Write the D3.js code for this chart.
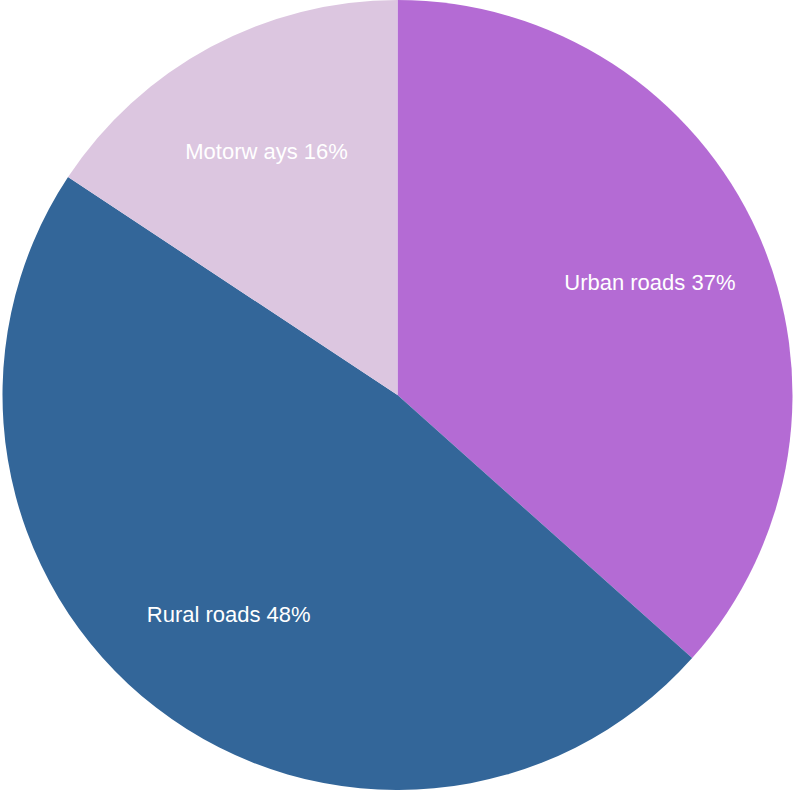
<!DOCTYPE html>
<html><head><meta charset="utf-8">
<script src="https://cdn.jsdelivr.net/npm/d3@7"></script>
<style>html,body{margin:0;padding:0;background:#fff;}</style>
</head><body>
<svg id="chart" width="795" height="790"></svg>
<script>
const categories = ["Urban roads", "Rural roads", "Motorw ays"];
const values = [36.6, 47.7, 15.7];
const labels = ["37%", "48%", "16%"];
const colors = ["#b46bd4", "#336699", "#dcc6e0"];

const svg = d3.select("#chart");
const cx = 397.5, cy = 395, r = 395;
const g = svg.append("g").attr("transform", `translate(${cx},${cy})`);
const pie = d3.pie().sort(null).value(d => d.v);
const data = pie(categories.map((c, i) => ({c, v: values[i], l: labels[i], col: colors[i]})));
const arc = d3.arc().innerRadius(0).outerRadius(r);
const labelArc = d3.arc().innerRadius(r * 0.70).outerRadius(r * 0.70);
g.selectAll("path").data(data).enter().append("path")
  .attr("d", arc).attr("fill", d => d.data.col);
g.selectAll("text").data(data).enter().append("text")
  .attr("transform", d => `translate(${labelArc.centroid(d)})`)
  .attr("text-anchor", "middle").attr("dy", "0.35em")
  .attr("font-family", "Liberation Sans, Arial, sans-serif")
  .style("font-size", "22px").attr("fill", "#fff")
  .text(d => d.data.c + " " + d.data.l);
</script>
</body></html>
